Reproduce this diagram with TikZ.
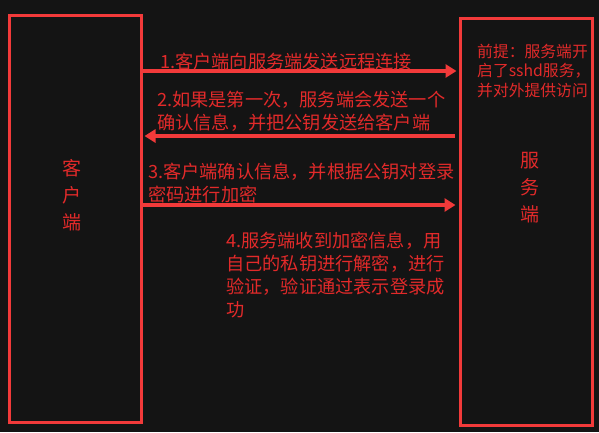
\documentclass[tikz,border=0pt]{standalone}
\usepackage{fontspec}
\usetikzlibrary{arrows.meta}
\newfontfamily\cjk{Noto Sans CJK SC}
\definecolor{bgdark}{RGB}{20,20,20}
\definecolor{linered}{RGB}{242,58,58}
\definecolor{textred}{RGB}{226,42,42}
\tikzset{
  box/.style={draw=linered, line width=3pt, rectangle, inner sep=0pt, minimum width=132pt, minimum height=407pt},
  arr/.style={draw=linered, line width=3.5pt, -{Triangle[length=11pt,width=13pt]}},
  lbl/.style={text=textred, font=\cjk\fontsize{18.2}{22.8}\selectfont, align=left, anchor=base west, inner sep=0pt},
  note/.style={text=textred, font=\cjk\fontsize{15.8}{19.5}\selectfont, align=left, anchor=base west, inner sep=0pt},
  big/.style={text=textred, font=\cjk\fontsize{19}{27}\selectfont, align=center, inner sep=0pt}
}
\begin{document}
\begin{tikzpicture}[x=1pt, y=-1pt]
\fill[bgdark] (0,0) rectangle (599,432);
\useasboundingbox (0,0) rectangle (599,432);
\node[box] (client) at (75.5,219) {};
\node[box] (server) at (526.5,222) {};
\node[big] (clientlbl) at (72,195) {客\\户\\端};
\node[big] (serverlbl) at (530,188) {服\\务\\端};
% base anchor of a multi-line node = baseline of its last line
\node[note] (pre) at (477,96) {前提：服务端开\\启了sshd服务，\\并对外提供访问};
\coordinate (y1) at (0,71);
\coordinate (y2) at (0,136);
\coordinate (y3) at (0,205);
\draw[arr, shorten >=2.5pt] (client.east |- y1) -- (server.west |- y1);
\draw[arr, shorten >=1.5pt, shorten <=4pt] (server.west |- y2) -- (client.east |- y2);
\draw[arr, shorten >=3.5pt] (client.east |- y3) -- (server.west |- y3);
\node[lbl] (m1) at (160,68) {1.客户端向服务端发送远程连接};
\node[lbl] (m2) at (157,129.5) {2.如果是第一次，服务端会发送一个\\确认信息，并把公钥发送给客户端};
\node[lbl] (m3) at (148,201.5) {3.客户端确认信息，并根据公钥对登录\\密码进行加密};
\node[lbl] (m4) at (226,316) {4.服务端收到加密信息，用\\自己的私钥进行解密，进行\\验证，验证通过表示登录成\\功};
\end{tikzpicture}
\end{document}
